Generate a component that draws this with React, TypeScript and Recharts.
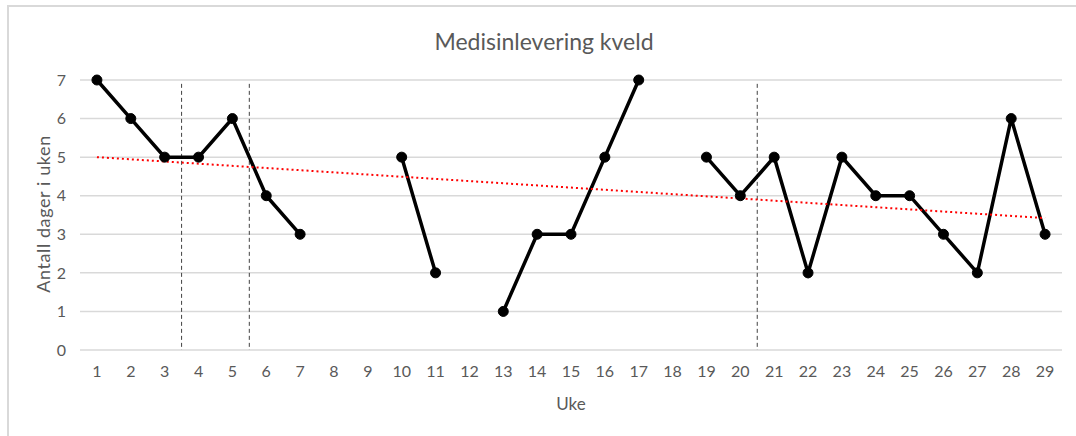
import { LineChart, Line, XAxis, YAxis, CartesianGrid, ReferenceLine } from 'recharts';

// ─── Data ────────────────────────────────────────────────────────────────────

const weeks = [
  1, 2, 3, 4, 5, 6, 7, 8, 9, 10, 11, 12, 13, 14, 15, 16, 17, 18, 19, 20, 21, 22, 23, 24, 25, 26, 27,
  28, 29,
];

// days per week with evening medication delivered (null = no registration)
const daysDelivered: (number | null)[] = [
  7, 6, 5, 5, 6, 4, 3, null, null, 5, 2, null, 1, 3, 3, 5, 7, null, 5, 4, 5, 2, 5, 4, 4, 3, 2, 6, 3,
];

// linear trend, read at first and last week
const trendWeeks = [1, 29];
const trendValues = [5.0, 3.42];

const phaseBreaks = [3.5, 5.5, 20.5];
const yTicks = [0, 1, 2, 3, 4, 5, 6, 7];

const rows = weeks.map((w, i) => {
  const ti = trendWeeks.indexOf(w);
  return {
    week: w,
    days: daysDelivered[i],
    trend: ti >= 0 ? trendValues[ti] : null,
  };
});

const FONT = 'Lato, "Open Sans", sans-serif';
const TEXT = '#595959';
const GRID = '#d9d9d9';

export default function App() {
  return (
    <div
      style={{
        position: 'absolute',
        left: 0,
        top: 0,
        width: 1076,
        height: 436,
        background: '#fff',
        overflow: 'hidden',
        fontFamily: FONT,
      }}
    >
      <div
        style={{
          position: 'absolute',
          left: 7,
          top: 5,
          width: 1100,
          height: 460,
          borderLeft: `2px solid ${GRID}`,
          borderTop: `2px solid ${GRID}`,
        }}
      />
      <div
        style={{
          position: 'absolute',
          left: 544,
          top: 41,
          transform: 'translate(-50%, -50%)',
          whiteSpace: 'nowrap',
          fontSize: 23,
          color: TEXT,
        }}
      >
        Medisinlevering kveld
      </div>
      <div
        style={{
          position: 'absolute',
          left: 43,
          top: 214,
          transform: 'translate(-50%, -50%) rotate(-90deg)',
          whiteSpace: 'nowrap',
          fontSize: 18,
          letterSpacing: 0.6,
          color: TEXT,
        }}
      >
        Antall dager i uken
      </div>
      <div
        style={{
          position: 'absolute',
          left: 571,
          top: 403,
          transform: 'translate(-50%, -50%)',
          fontSize: 17,
          color: TEXT,
        }}
      >
        Uke
      </div>
      <div style={{ position: 'absolute', left: 0, top: 0 }}>
        <LineChart
          width={1076}
          height={436}
          data={rows}
          margin={{ top: 80, right: 14, bottom: 0, left: 0 }}
        >
          <CartesianGrid horizontal vertical={false} stroke={GRID} strokeWidth={1.5} />
          <XAxis
            dataKey="week"
            type="number"
            domain={[0.5, 29.5]}
            ticks={weeks}
            interval={0}
            axisLine={false}
            tickLine={false}
            tickSize={0}
            tickMargin={16}
            height={86}
            tick={{ fill: TEXT, fontSize: 16, fontFamily: FONT }}
          />
          <YAxis
            domain={[0, 7]}
            ticks={yTicks}
            width={80}
            axisLine={false}
            tickLine={false}
            tickSize={0}
            tickMargin={14}
            tick={{ fill: TEXT, fontSize: 16, fontFamily: FONT }}
          />
          {phaseBreaks.map((x) => (
            <ReferenceLine
              key={x}
              segment={[
                { x, y: 6.9 },
                { x, y: 0 },
              ]}
              stroke="#404040"
              strokeDasharray="4 3"
              strokeWidth={1}
            />
          ))}
          <Line
            dataKey="days"
            stroke="#000"
            strokeWidth={3.5}
            dot={{ r: 5, fill: '#000', stroke: '#000', strokeWidth: 1 }}
            connectNulls={false}
            isAnimationActive={false}
          />
          <Line
            dataKey="trend"
            stroke="#ff0000"
            strokeWidth={2}
            strokeDasharray="2 3"
            dot={false}
            connectNulls
            isAnimationActive={false}
          />
        </LineChart>
      </div>
    </div>
  );
}
